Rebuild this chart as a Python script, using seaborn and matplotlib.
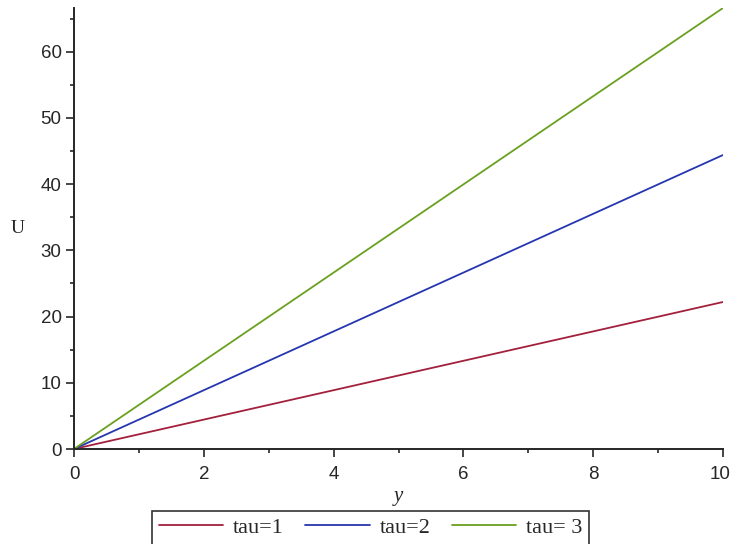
import pandas as pd
import seaborn as sns
import matplotlib.pyplot as plt
from matplotlib.ticker import MultipleLocator
from matplotlib.transforms import ScaledTranslation

# values (straight lines from the origin)
y_vals = [0, 10]
u_tau1 = [0, 22.2]
u_tau2 = [0, 44.4]
u_tau3 = [0, 66.6]
labels = ["tau=1", "tau=2", "tau= 3"]
colors = ["#a3203c", "#2636b0", "#6aa020"]

df = pd.concat([
    pd.DataFrame({"y": y_vals, "U": u, "tau": lab})
    for u, lab in zip([u_tau1, u_tau2, u_tau3], labels)
])

sns.set_style("ticks")
plt.rcParams['font.family'] = ['Liberation Sans', 'DejaVu Sans']

fig = plt.figure(figsize=(7.31, 5.44), dpi=100)
ax = fig.add_axes([74 / 731, 95 / 544, 649 / 731, 441 / 544])

sns.lineplot(data=df, x="y", y="U", hue="tau", palette=colors,
             linewidth=1.3, ax=ax, legend=False)

ax.set_xlim(0, 10)
ax.set_ylim(0, 66.6)
ax.xaxis.set_major_locator(MultipleLocator(2))
ax.xaxis.set_minor_locator(MultipleLocator(1))
ax.yaxis.set_major_locator(MultipleLocator(10))
ax.yaxis.set_minor_locator(MultipleLocator(5))
ax.tick_params(which="major", length=6, width=1.2, labelsize=13.5, pad=3)
ax.tick_params(which="minor", length=3, width=1.2)
ax.tick_params(axis="x", pad=6)
for s in ["top", "right"]:
    ax.spines[s].set_visible(False)
for s in ["left", "bottom"]:
    ax.spines[s].set_linewidth(1.4)

# nudge the last x label so it stays inside the figure
last = ax.xaxis.get_major_ticks()[-1]
for t in ax.xaxis.get_major_ticks():
    if abs(t.get_loc() - 10) < 1e-9:
        last = t
last.label1.set_transform(last.label1.get_transform()
                          + ScaledTranslation(-3 / 100, 0, fig.dpi_scale_trans))

ax.set_xlabel("")
ax.set_ylabel("")
fig.text(18 / 731, 1 - 228 / 544, "U", family="Liberation Serif",
         fontsize=14, ha="center", va="center")
fig.text(398 / 731, 1 - 497 / 544, "y", family="Liberation Serif",
         style="italic", fontsize=15, ha="center", va="center")

handles = [plt.Line2D([], [], color=c, linewidth=1.3) for c in colors]
leg = fig.legend(handles, labels, loc="upper left",
                 bbox_to_anchor=(152 / 731, 1 - 511 / 544), ncol=3,
                 frameon=True, fancybox=False, edgecolor="black",
                 prop={"family": "Liberation Serif", "size": 16},
                 handlelength=2.9, columnspacing=0.95, handletextpad=0.45,
                 borderpad=0.3, borderaxespad=0)
leg.get_frame().set_linewidth(1.2)

fig.savefig("out.png", dpi=100)
